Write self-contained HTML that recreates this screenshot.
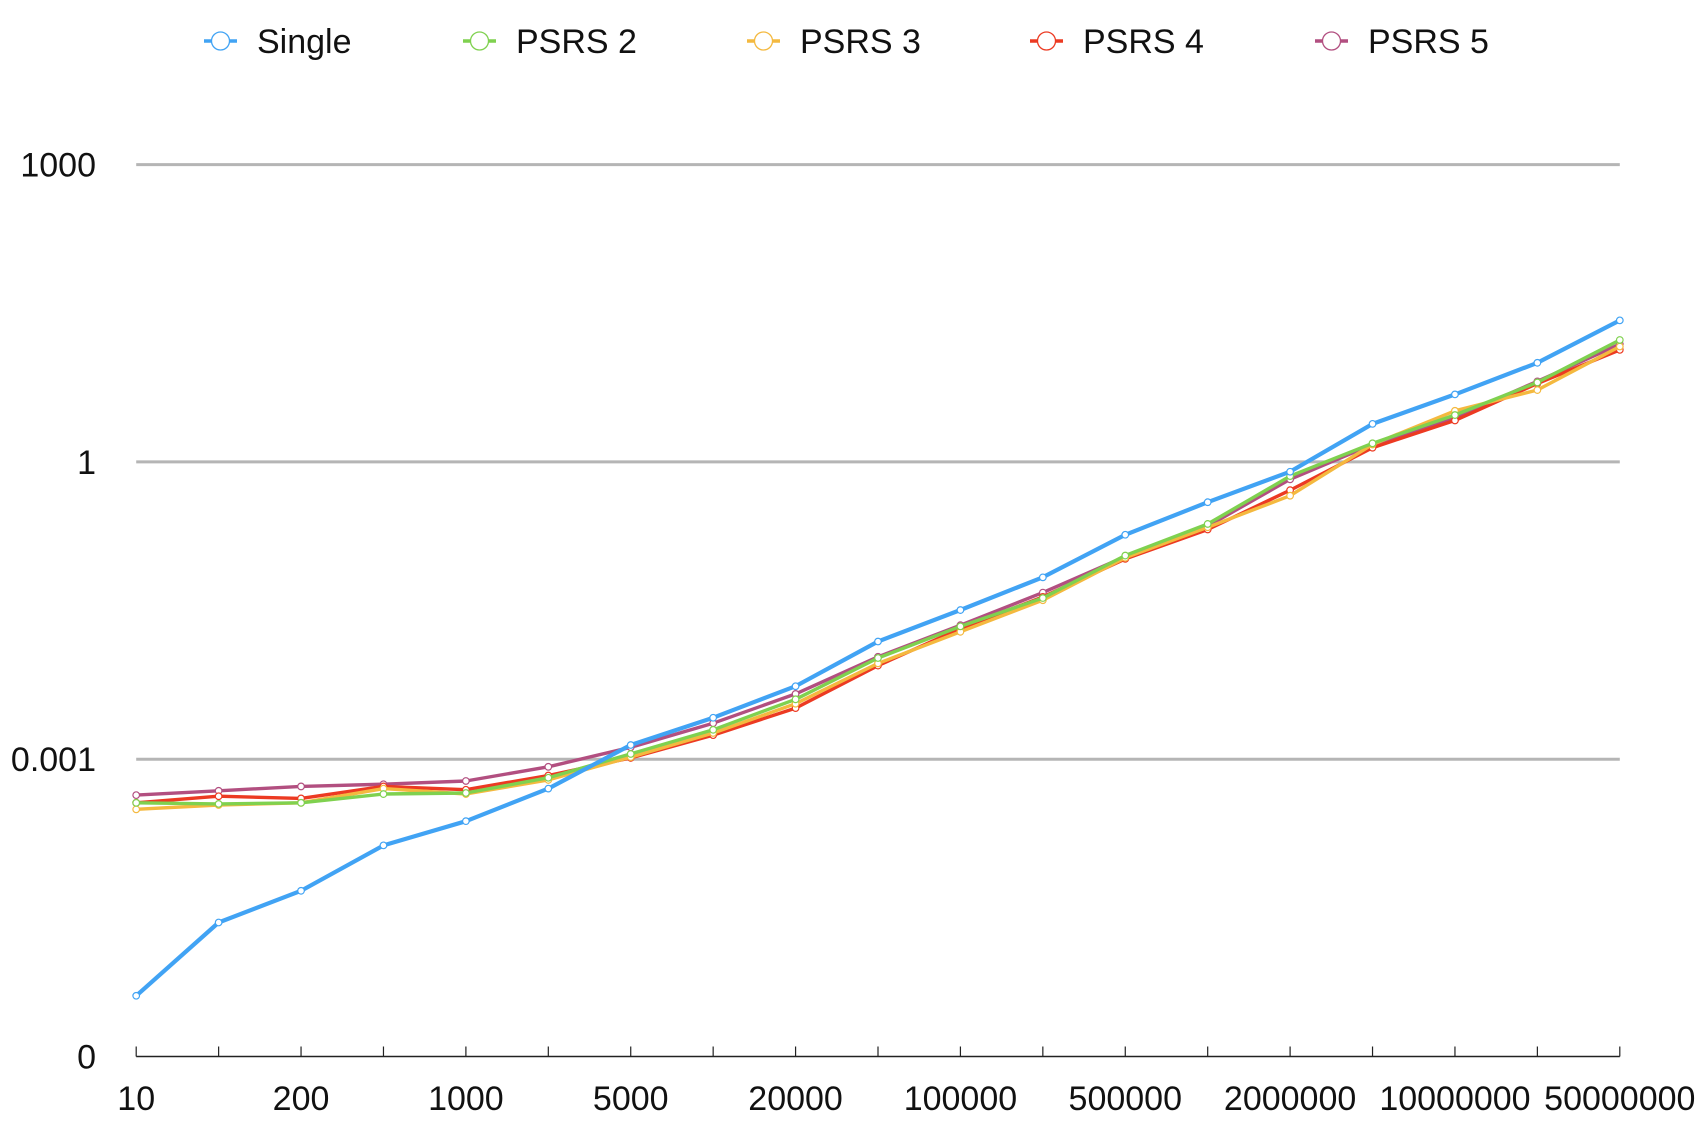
<!DOCTYPE html>
<html><head><meta charset="utf-8"><style>
html,body{margin:0;padding:0;background:#fff;}
svg{display:block;font-family:"Liberation Sans",Helvetica,Arial,sans-serif;}
</style></head><body>
<svg id="chart" width="1708" height="1126" viewBox="0 0 1708 1126" xmlns="http://www.w3.org/2000/svg">
<g id="legend"></g>
<g id="grid"></g>
<g id="yaxis"></g>
<g id="xaxis"></g>
<g id="series"></g>
</svg>
<script>
const categories = ["10","100","200","500","1000","2000","5000","10000","20000","50000","100000","200000","500000","1000000","2000000","5000000","10000000","20000000","50000000"];
const xTickLabels = ["10","200","1000","5000","20000","100000","500000","2000000","10000000","50000000"];
const yTickValues = [1e-6, 1e-3, 1, 1000];
const yTickLabels = ["0","0.001","1","1000"];
const seriesNames = ["Single","PSRS 2","PSRS 3","PSRS 4","PSRS 5"];
const single = [4.1e-6,2.25e-5,4.7e-5,1.35e-4,2.37e-4,5.05e-4,1.39e-3,2.62e-3,5.45e-3,0.0154,0.032,0.0684,0.184,0.392,0.796,2.42,4.8,10,26.8];
const psrs2 = [3.63e-4,3.54e-4,3.63e-4,4.45e-4,4.56e-4,6.5e-4,1.13e-3,1.98e-3,4.02e-3,0.0105,0.0219,0.0423,0.1135,0.2365,0.719,1.54,2.97,6.34,17.0];
const psrs3 = [3.12e-4,3.45e-4,3.63e-4,5.05e-4,4.45e-4,6.18e-4,1.05e-3,1.84e-3,3.63e-3,9.27e-3,0.0193,0.0402,0.108,0.219,0.456,1.5,3.28,5.31,14.6];
const psrs4 = [3.63e-4,4.23e-4,4.02e-4,5.31e-4,4.92e-4,6.84e-4,1.03e-3,1.75e-3,3.28e-3,8.81e-3,0.0208,0.0434,0.105,0.208,0.518,1.39,2.62,6.18,13.5];
const psrs5 = [4.34e-4,4.8e-4,5.31e-4,5.59e-4,6.03e-4,8.38e-4,1.32e-3,2.31e-3,4.56e-3,0.0108,0.0225,0.048,0.111,0.225,0.667,1.5,2.82,6.5,15.4];

const NS="http://www.w3.org/2000/svg";
const X0=136.2, X1=1619.8, Y1ONE=461.9, DEC=99.1;
function xPos(i){return X0+(X1-X0)*i/(categories.length-1);}
function yPos(v){return Y1ONE-Math.log10(v)*DEC;}
function mk(tag,attrs,parent){const e=document.createElementNS(NS,tag);for(const k in attrs)e.setAttribute(k,attrs[k]);parent.appendChild(e);return e;}

const grid=document.getElementById('grid'), yaxis=document.getElementById('yaxis'), xaxis=document.getElementById('xaxis'), seriesG=document.getElementById('series'), legend=document.getElementById('legend');
yTickValues.forEach((v,i)=>{
  const y=yPos(v);
  if(i>0){const l=mk('line',{x1:X0,x2:X1,y1:y,y2:y,stroke:'#b5b5b5','stroke-width':3},grid);
    
    }
  const t=mk('text',{x:96,y:y+12,'text-anchor':'end','font-size':34,fill:'#111'},yaxis);
  t.textContent=yTickLabels[i];
  
  
});
const baseY=yPos(yTickValues[0]);
const ax=mk('line',{x1:X0,x2:X1,y1:baseY,y2:baseY,stroke:'#222','stroke-width':1.5},xaxis);


categories.forEach((c,i)=>{
  const x=xPos(i);
  const tk=mk('line',{x1:x,x2:x,y1:baseY-10,y2:baseY,stroke:'#222','stroke-width':1.2},xaxis);
  
  
  if(i%2===0){
    const t=mk('text',{x:x,y:1110,'text-anchor':'middle','font-size':34,fill:'#111'},xaxis);
    t.textContent=xTickLabels[i/2];
    
    
  }
});
const colors=['#41a3f4','#7fd14f','#f4b93f','#ec3a22','#b24f80'];
const widths=[4.2,3.4,3.4,3.4,3.4];
const allSeries=[single,psrs2,psrs3,psrs4,psrs5];
[4,3,2,1,0].forEach(s=>{
  const g=mk('g',{},seriesG);
  
  
  const pts=allSeries[s].map((v,i)=>xPos(i).toFixed(1)+','+yPos(v).toFixed(1)).join(' ');
  const pl=mk('polyline',{points:pts,fill:'none',stroke:colors[s],'stroke-width':widths[s],'stroke-linejoin':'round'},g);
  
  
  allSeries[s].forEach((v,i)=>{
    const c=mk('circle',{cx:xPos(i),cy:yPos(v),r:3.3,fill:'#fff',stroke:colors[s],'stroke-width':1.2},g);
    
    
  });
});
const legendX=[204,463,747,1030,1315];
seriesNames.forEach((n,i)=>{
  const x=legendX[i], y=41;
  const g=mk('g',{},legend);
  
  
  mk('line',{x1:x,x2:x+33,y1:y,y2:y,stroke:colors[i],'stroke-width':3.5},g);
  mk('circle',{cx:x+16.5,cy:y,r:9,fill:'#fff',stroke:colors[i],'stroke-width':1.3},g);
  const t=mk('text',{x:x+53,y:y+12,'font-size':34,fill:'#111'},g);
  t.textContent=n;
});
</script>
</body></html>
